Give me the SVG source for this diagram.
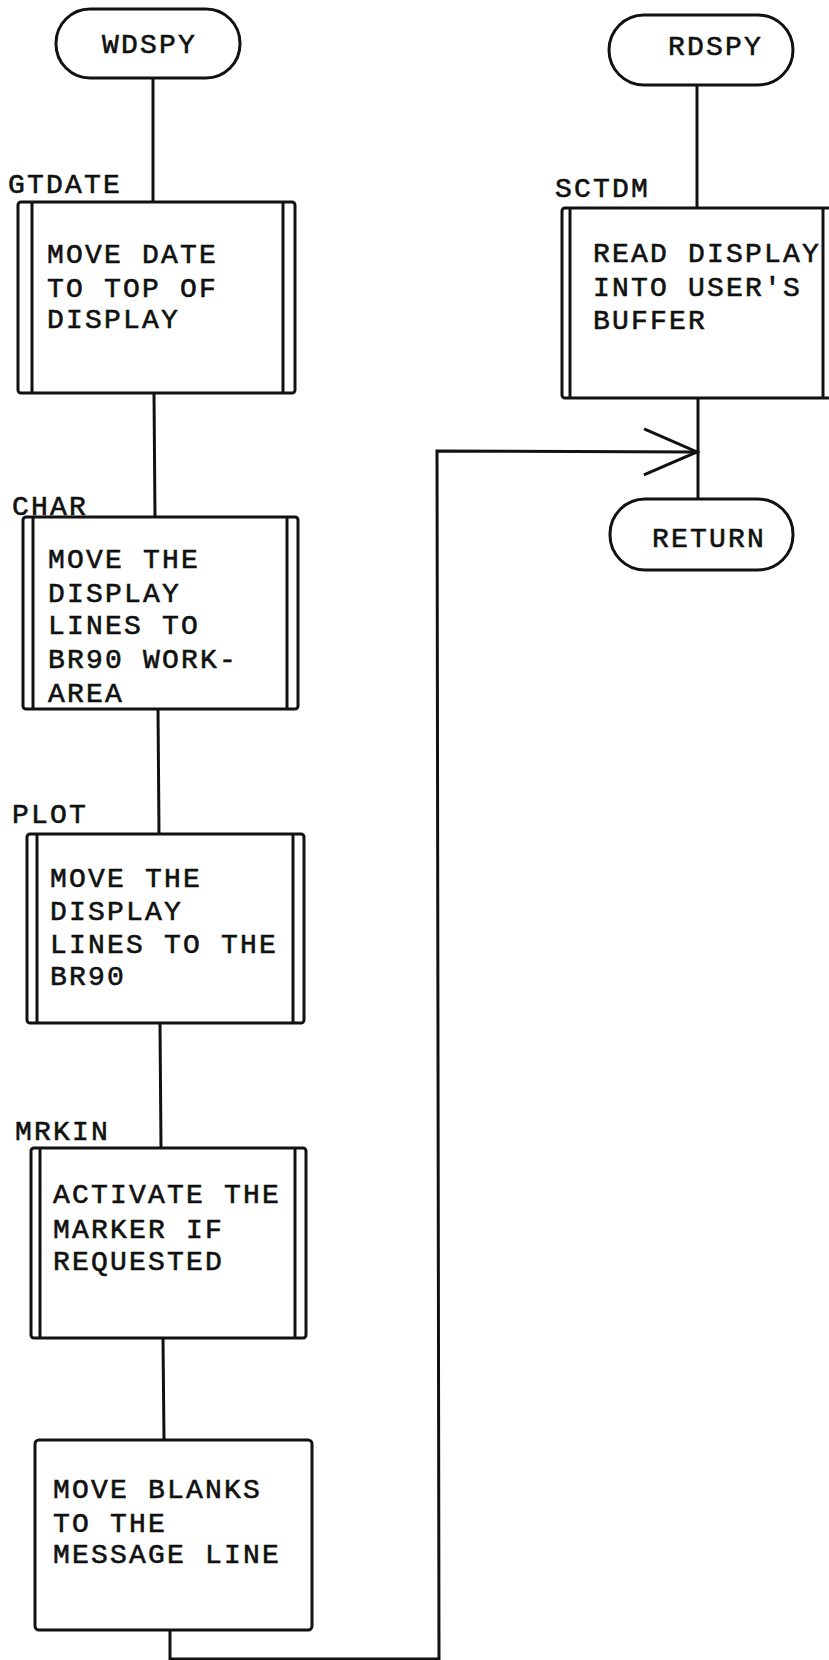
<svg xmlns="http://www.w3.org/2000/svg" width="829" height="1660" viewBox="0 0 829 1660">
<defs>
<style>
.t{font-family:"Liberation Mono","DejaVu Sans Mono",monospace;font-size:28px;letter-spacing:2.2px;fill:#111;stroke:#111;stroke-width:0.6px;}
.s{fill:#fff;stroke:#111;stroke-width:3;}
.l{fill:none;stroke:#111;stroke-width:3;}
</style>
<marker id="open" markerWidth="60" markerHeight="60" refX="55" refY="25" orient="auto" markerUnits="userSpaceOnUse">
<path d="M2,2 L55,25 L2,48" fill="none" stroke="#111" stroke-width="3"/>
</marker>
</defs>
<rect width="829" height="1660" fill="#fff"/>
<g id="connectors">
<line class="l" x1="153" y1="78" x2="153" y2="202"/>
<line class="l" x1="154" y1="393" x2="155" y2="517"/>
<line class="l" x1="158" y1="709" x2="159" y2="834"/>
<line class="l" x1="160" y1="1023" x2="161" y2="1148"/>
<line class="l" x1="163" y1="1338" x2="164" y2="1440"/>
<polyline class="l" points="170,1630 170,1659 439,1659 437,451 697,452" marker-end="url(#open)"/>
<line class="l" x1="697" y1="85" x2="697" y2="208"/>
<line class="l" x1="698" y1="398" x2="698" y2="499"/>
</g>
<g id="wdspy">
<rect class="s" x="56" y="9" width="184" height="69" rx="34"/>
<text class="t" x="102" y="53">WDSPY</text>
</g>
<g id="gtdate">
<text class="t" x="8" y="193">GTDATE</text>
<rect class="s" x="18" y="202" width="277" height="191" rx="3"/>
<line class="l" x1="32" y1="202" x2="32" y2="393"/>
<line class="l" x1="283" y1="202" x2="283" y2="393"/>
<text class="t" x="47" y="263">MOVE DATE</text>
<text class="t" x="47" y="297">TO TOP OF</text>
<text class="t" x="47" y="328">DISPLAY</text>
</g>
<g id="char">
<rect class="s" x="23" y="517" width="275" height="192" rx="3"/>
<line class="l" x1="33" y1="517" x2="33" y2="709"/>
<line class="l" x1="287" y1="517" x2="287" y2="709"/>
<text class="t" x="12" y="515">CHAR</text>
<text class="t" x="48" y="568">MOVE THE</text>
<text class="t" x="48" y="602">DISPLAY</text>
<text class="t" x="48" y="634">LINES TO</text>
<text class="t" x="48" y="668">BR90 WORK-</text>
<text class="t" x="48" y="702">AREA</text>
</g>
<g id="plot">
<text class="t" x="12" y="823">PLOT</text>
<rect class="s" x="27" y="834" width="277" height="189" rx="3"/>
<line class="l" x1="37" y1="834" x2="37" y2="1023"/>
<line class="l" x1="293" y1="834" x2="293" y2="1023"/>
<text class="t" x="50" y="887">MOVE THE</text>
<text class="t" x="50" y="920">DISPLAY</text>
<text class="t" x="50" y="953">LINES TO THE</text>
<text class="t" x="50" y="985">BR90</text>
</g>
<g id="mrkin">
<text class="t" x="15" y="1140">MRKIN</text>
<rect class="s" x="31" y="1148" width="275" height="190" rx="3"/>
<line class="l" x1="40" y1="1148" x2="40" y2="1338"/>
<line class="l" x1="295" y1="1148" x2="295" y2="1338"/>
<text class="t" x="53" y="1203">ACTIVATE THE</text>
<text class="t" x="53" y="1238">MARKER IF</text>
<text class="t" x="53" y="1270">REQUESTED</text>
</g>
<g id="blanks">
<rect class="s" x="35" y="1440" width="277" height="190" rx="4"/>
<text class="t" x="53" y="1498">MOVE BLANKS</text>
<text class="t" x="53" y="1532">TO THE</text>
<text class="t" x="53" y="1563">MESSAGE LINE</text>
</g>
<g id="rdspy">
<rect class="s" x="609" y="15" width="184" height="70" rx="35"/>
<text class="t" x="668" y="55">RDSPY</text>
</g>
<g id="sctdm">
<text class="t" x="555" y="197">SCTDM</text>
<rect class="s" x="562" y="208" width="275" height="190" rx="3"/>
<line class="l" x1="570" y1="208" x2="570" y2="398"/>
<line class="l" x1="823" y1="208" x2="823" y2="398"/>
<text class="t" x="593" y="262">READ DISPLAY</text>
<text class="t" x="593" y="296">INTO USER'S</text>
<text class="t" x="593" y="329">BUFFER</text>
</g>
<g id="return">
<rect class="s" x="610" y="499" width="183" height="71" rx="35"/>
<text class="t" x="652" y="547">RETURN</text>
</g>
</svg>
